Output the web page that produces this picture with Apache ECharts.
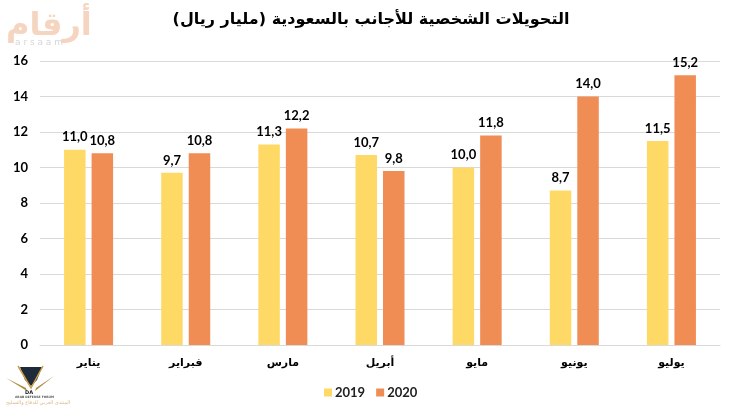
<!DOCTYPE html>
<html>
<head>
<meta charset="utf-8">
<style>
html, body { margin: 0; padding: 0; background: #fff; }
#chart { width: 738px; height: 406px; }
</style>
<script src="https://cdn.jsdelivr.net/npm/echarts@6/dist/echarts.min.js"></script>
</head>
<body>
<div id="chart"></div>
<script>
var categories = ["يناير", "فبراير", "مارس", "أبريل", "مايو", "يونيو", "يوليو"];
var values2019 = [11.0, 9.7, 11.3, 10.7, 10.0, 8.7, 11.5];
var values2020 = [10.8, 10.8, 12.2, 9.8, 11.8, 14.0, 15.2];
var chartTitle = "التحويلات الشخصية للأجانب بالسعودية (مليار ريال)";
var latin = "Lato, 'Open Sans', sans-serif";
var arabic = "'DejaVu Sans', sans-serif";

// decimal comma as in the original
function commaLabel(p) {
    return p.value.toFixed(1).replace(".", ",");
}

var myChart = echarts.init(document.getElementById("chart"), null, {renderer: "canvas"});

var option = {
    animation: false,
    backgroundColor: "#fff",
    title: {
        text: chartTitle,
        left: 366,
        top: 7,
        textAlign: "center",
        textStyle: {fontFamily: arabic, fontSize: 16, fontWeight: "bold", color: "#000"}
    },
    legend: {
        data: ["2019", "2020"],
        left: 319,
        top: 381,
        itemWidth: 8,
        itemHeight: 8,
        itemGap: 11,
        icon: "rect",
        textStyle: {fontFamily: latin, fontSize: 13, fontWeight: "bold", color: "#222", padding: [0, 0, 0, -2]}
    },
    grid: {left: 40, right: 18, top: 61, bottom: 61},
    xAxis: {
        type: "category",
        data: categories,
        axisTick: {show: false},
        axisLine: {lineStyle: {color: "#d9d9d9", width: 1}},
        axisLabel: {fontFamily: arabic, fontSize: 11, fontWeight: "bold", color: "#000", margin: 13}
    },
    yAxis: {
        type: "value",
        min: 0,
        max: 16,
        interval: 2,
        axisLine: {show: false},
        axisTick: {show: false},
        splitLine: {lineStyle: {color: "#d9d9d9", width: 1}},
        axisLabel: {fontFamily: latin, fontSize: 13, fontWeight: "bold", color: "#000", margin: 12}
    },
    series: [
        {
            name: "2019",
            type: "bar",
            data: values2019,
            barWidth: 21.5,
            barGap: "28%",
            itemStyle: {color: "#FFD966"},
            label: {show: true, position: "top", distance: 6, formatter: commaLabel,
                fontFamily: latin, fontSize: 13, fontWeight: "bold", color: "#000"}
        },
        {
            name: "2020",
            type: "bar",
            data: values2020,
            barWidth: 21.5,
            itemStyle: {color: "#F08D55"},
            label: {show: true, position: "top", distance: 6, formatter: commaLabel,
                fontFamily: latin, fontSize: 13, fontWeight: "bold", color: "#000"}
        }
    ],
    graphic: [
        // arqaam watermark, top left
        {type: "text", left: 6, top: 11, style: {text: "أرقام", font: "bold 32px 'DejaVu Sans'", fill: "#f6d5c0"}},
        {type: "text", left: 15, top: 38, style: {text: "a r s a a m", font: "9px 'DejaVu Sans'", fill: "#d6d6d6"}},
        // small crest, bottom left
        {type: "polygon", shape: {points: [[20, 367], [42, 367], [37, 380], [31, 386], [25, 380]]}, style: {fill: "#1f2a3a"}},
        {type: "polyline", shape: {points: [[18, 366], [31, 388], [43, 366]]}, style: {stroke: "#c9a04a", fill: null, lineWidth: 1.5}},
        {type: "polygon", shape: {points: [[6, 378], [26, 388], [27, 391]]}, style: {fill: "#b08a3a"}},
        {type: "polygon", shape: {points: [[54, 376], [36, 388], [35, 391]]}, style: {fill: "#b08a3a"}},
        {type: "text", left: 25, top: 390, style: {text: "DA", font: "bold 5px 'DejaVu Sans'", fill: "#222"}},
        {type: "text", left: 15, top: 396, style: {text: "ARAB DEFENSE FORUM", font: "bold 3px 'DejaVu Sans'", fill: "#555"}},
        {type: "text", left: 6, top: 400, style: {text: "المنتدى العربي للدفاع والتسليح", font: "5px 'DejaVu Sans'", fill: "#d9b98a"}}
    ]
};

myChart.setOption(option);
</script>
</body>
</html>
